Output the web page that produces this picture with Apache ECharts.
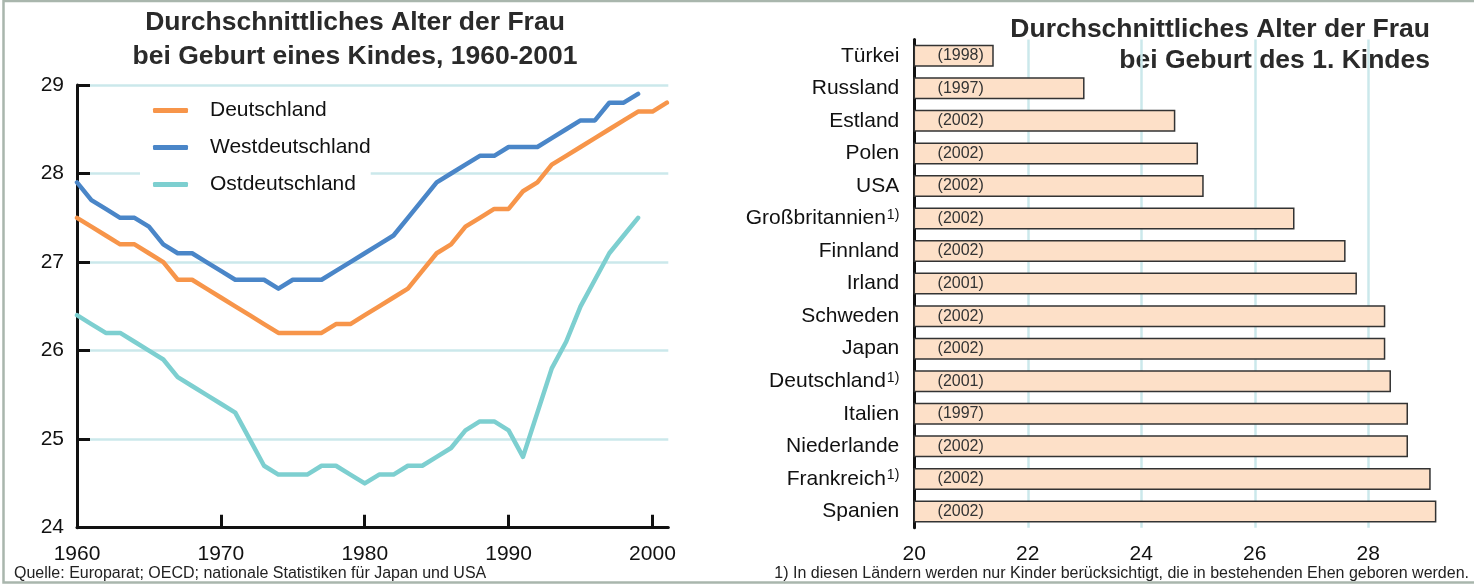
<!DOCTYPE html>
<html>
<head>
<meta charset="utf-8">
<script src="https://cdn.jsdelivr.net/npm/echarts@6/dist/echarts.min.js"></script>
<style>
html, body { margin: 0; padding: 0; background: #fff; }
#main { width: 1474px; height: 584px; }
</style>
</head>
<body>
<div id="main"></div>
<script>
// linkes Diagramm: Alter der Frau bei Geburt eines Kindes
var years = [1960, 1961, 1962, 1963, 1964, 1965, 1966, 1967, 1968, 1969,
    1970, 1971, 1972, 1973, 1974, 1975, 1976, 1977, 1978, 1979,
    1980, 1981, 1982, 1983, 1984, 1985, 1986, 1987, 1988, 1989,
    1990, 1991, 1992, 1993, 1994, 1995, 1996, 1997, 1998, 1999,
    2000, 2001];
var deutschland = [27.5, 27.4, 27.3, 27.2, 27.2, 27.1, 27.0, 26.8, 26.8, 26.7,
    26.6, 26.5, 26.4, 26.3, 26.2, 26.2, 26.2, 26.2, 26.3, 26.3,
    26.4, 26.5, 26.6, 26.7, 26.9, 27.1, 27.2, 27.4, 27.5, 27.6,
    27.6, 27.8, 27.9, 28.1, 28.2, 28.3, 28.4, 28.5, 28.6, 28.7,
    28.7, 28.8];
var westdeutschland = [27.9, 27.7, 27.6, 27.5, 27.5, 27.4, 27.2, 27.1, 27.1, 27.0,
    26.9, 26.8, 26.8, 26.8, 26.7, 26.8, 26.8, 26.8, 26.9, 27.0,
    27.1, 27.2, 27.3, 27.5, 27.7, 27.9, 28.0, 28.1, 28.2, 28.2,
    28.3, 28.3, 28.3, 28.4, 28.5, 28.6, 28.6, 28.8, 28.8, 28.9];
var ostdeutschland = [26.4, 26.3, 26.2, 26.2, 26.1, 26.0, 25.9, 25.7, 25.6, 25.5,
    25.4, 25.3, 25.0, 24.7, 24.6, 24.6, 24.6, 24.7, 24.7, 24.6,
    24.5, 24.6, 24.6, 24.7, 24.7, 24.8, 24.9, 25.1, 25.2, 25.2,
    25.1, 24.8, 25.3, 25.8, 26.1, 26.5, 26.8, 27.1, 27.3, 27.5];
var yearTicks = [1960, 1970, 1980, 1990, 2000];

// rechtes Diagramm: Alter bei Geburt des 1. Kindes
var countries = ['Türkei', 'Russland', 'Estland', 'Polen', 'USA', 'Großbritannien',
    'Finnland', 'Irland', 'Schweden', 'Japan', 'Deutschland', 'Italien',
    'Niederlande', 'Frankreich', 'Spanien'];
var firstChildAge = [21.4, 23.0, 24.6, 25.0, 25.1, 26.7, 27.6, 27.8, 28.3, 28.3,
    28.4, 28.7, 28.7, 29.1, 29.2];
var dataYear = ['1998', '1997', '2002', '2002', '2002', '2002', '2002', '2001',
    '2002', '2002', '2001', '1997', '2002', '2002', '2002'];
var footnote = [false, false, false, false, false, true, false, false,
    false, false, true, false, false, true, false];
var ageTicks = [20, 22, 24, 26, 28];

var FONT = '"Liberation Sans", Arial, Helvetica, sans-serif';
var grid = '#cbe8eb';
var titleFont = 'bold 26.5px ' + FONT;

function pairs(vals) {
    return vals.map(function (v, i) { return [years[i], v]; });
}

var myChart = echarts.init(document.getElementById('main'));

var option = {
    backgroundColor: '#fff',
    textStyle: { fontFamily: FONT },
    animation: false,
    graphic: [
        {
            type: 'rect', silent: true, z: -10,
            shape: { x: 3.5, y: 1, width: 1490, height: 581.5 },
            style: { fill: 'none', stroke: '#a9b6ad', lineWidth: 2.5 }
        },
        {
            type: 'text', x: 355, y: 23,
            style: { text: 'Durchschnittliches Alter der Frau', align: 'center', verticalAlign: 'middle',
                font: titleFont, fill: '#2a2a2a' }
        },
        {
            type: 'text', x: 355, y: 57,
            style: { text: 'bei Geburt eines Kindes, 1960-2001', align: 'center', verticalAlign: 'middle',
                font: titleFont, fill: '#2a2a2a' }
        },
        {
            type: 'text', x: 1434, y: 30,
            style: { text: 'Durchschnittliches Alter der Frau', align: 'right', verticalAlign: 'middle',
                font: titleFont, fill: '#2a2a2a', backgroundColor: '#fff', padding: [3, 4, 3, 4] }
        },
        {
            type: 'text', x: 1434, y: 61,
            style: { text: 'bei Geburt des 1. Kindes', align: 'right', verticalAlign: 'middle',
                font: titleFont, fill: '#2a2a2a', backgroundColor: '#fff', padding: [4, 4, 7, 6] }
        },
        {
            type: 'text', x: 14, y: 574,
            style: { text: 'Quelle: Europarat; OECD; nationale Statistiken für Japan und USA',
                align: 'left', verticalAlign: 'middle', font: '16px ' + FONT, fill: '#222' }
        },
        {
            type: 'text', x: 1469, y: 574,
            style: { text: '1) In diesen Ländern werden nur Kinder berücksichtigt, die in bestehenden Ehen geboren werden.',
                align: 'right', verticalAlign: 'middle', font: '16px ' + FONT, fill: '#222' }
        }
    ],
    legend: {
        data: ['Deutschland', 'Westdeutschland', 'Ostdeutschland'],
        orient: 'vertical',
        left: 140,
        top: 92,
        backgroundColor: '#fff',
        padding: [8, 0, 8, 13],
        icon: 'roundRect',
        itemWidth: 35,
        itemHeight: 5,
        itemGap: 16,
        textStyle: { fontSize: 21, color: '#111', padding: [0, 0, 0, 17], fontFamily: FONT }
    },
    grid: [
        { left: 77, right: 805.7, top: 85, bottom: 56.3 },
        { left: 914.3, right: 20.6, top: 39.5, bottom: 56.3 }
    ],
    xAxis: [
        {
            gridIndex: 0, type: 'value', min: 1960, max: 2001.1, interval: 10,
            axisLine: { lineStyle: { color: '#111', width: 3 } },
            axisTick: { inside: true, length: 13, customValues: yearTicks, lineStyle: { color: '#111', width: 3 } },
            axisLabel: {
                customValues: yearTicks, fontSize: 21, color: '#111', margin: 16,
                formatter: function (v) { return String(v); }
            },
            splitLine: { show: false }
        },
        {
            gridIndex: 1, type: 'value', min: 20, max: 29.5, interval: 2,
            axisLine: { lineStyle: { color: '#111', width: 3 } },
            axisTick: { inside: false, length: 7, customValues: ageTicks, lineStyle: { color: '#111', width: 3 } },
            axisLabel: { customValues: ageTicks, fontSize: 21, color: '#111', margin: 16 },
            splitLine: { show: true, lineStyle: { color: grid, width: 2.5 } }
        }
    ],
    yAxis: [
        {
            gridIndex: 0, type: 'value', min: 24, max: 29, interval: 1,
            axisLine: { show: true, lineStyle: { color: '#111', width: 3 } },
            axisTick: { show: true, inside: true, length: 13, lineStyle: { color: '#111', width: 3 } },
            axisLabel: { fontSize: 21, color: '#111', margin: 13 },
            splitLine: { show: true, lineStyle: { color: grid, width: 2.5 } }
        },
        {
            gridIndex: 1, type: 'category', inverse: true, data: countries,
            axisLine: { show: true, lineStyle: { color: '#111', width: 3 } },
            axisTick: { show: false },
            axisLabel: {
                fontSize: 21, color: '#111', margin: 15,
                formatter: function (v, i) {
                    return footnote[i] ? v + '{sup|1)}' : v;
                },
                rich: { sup: { fontSize: 14, verticalAlign: 'top', padding: [0, 0, 0, 1], color: '#111' } }
            },
            splitLine: { show: false }
        }
    ],
    series: [
        {
            name: 'Deutschland', type: 'line', xAxisIndex: 0, yAxisIndex: 0,
            data: pairs(deutschland), symbol: 'none', color: '#f7954a',
            lineStyle: { width: 4.5, cap: 'round', join: 'round' }
        },
        {
            name: 'Westdeutschland', type: 'line', xAxisIndex: 0, yAxisIndex: 0,
            data: pairs(westdeutschland), symbol: 'none', color: '#4a86c8',
            lineStyle: { width: 4.5, cap: 'round', join: 'round' }
        },
        {
            name: 'Ostdeutschland', type: 'line', xAxisIndex: 0, yAxisIndex: 0,
            data: pairs(ostdeutschland), symbol: 'none', color: '#7dcfd0',
            lineStyle: { width: 4.5, cap: 'round', join: 'round' }
        },
        {
            name: 'Erstes Kind', type: 'bar', xAxisIndex: 1, yAxisIndex: 1,
            data: firstChildAge, barWidth: 22,
            itemStyle: { color: '#fde0c8', borderColor: '#333', borderWidth: 1.5 },
            label: {
                show: true, position: 'insideLeft', distance: 24,
                fontSize: 16, color: '#333',
                formatter: function (p) { return '(' + dataYear[p.dataIndex] + ')'; }
            }
        }
    ]
};

myChart.setOption(option);
</script>
</body>
</html>
